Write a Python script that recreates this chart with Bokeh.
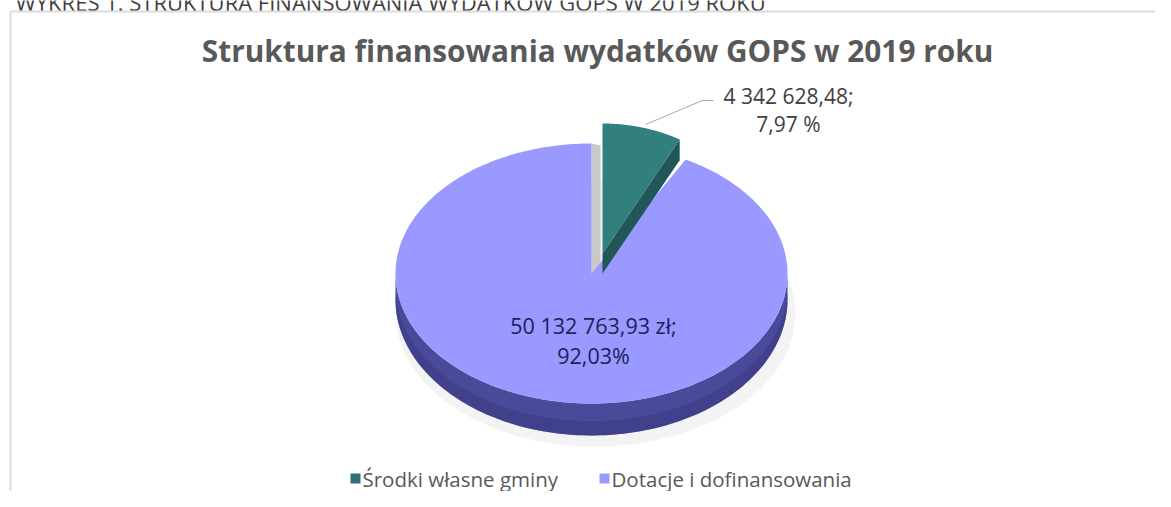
import numpy as np
from bokeh.plotting import figure
from bokeh.models import Range1d
from bokeh.core.properties import value
from bokeh.embed import file_html
from bokeh.resources import INLINE

# ---- data ----
header_text = "WYKRES 1. STRUKTURA FINANSOWANIA WYDATKÓW GOPS W 2019 ROKU"
title_text = "Struktura finansowania wydatków GOPS w 2019 roku"
categories = ["Środki własne gminy", "Dotacje i dofinansowania"]
amounts = [4342628.48, 50132763.93]
label_line1 = ["4 342 628,48;", "50 132 763,93 zł;"]
label_line2 = ["7,97 %", "92,03%"]
top_colors = ["#31807e", "#9999ff"]
side_colors = ["#215857", "#4a4a9a"]
legend_colors = ["#2f6f7a", "#9999ff"]
explode = [1, 0]

# ---- geometry (image pixels) ----
W, H = 1155, 491
CX, CY = 591.0, 273.0
RX, RY = 196.0, 130.0
D0, P2 = 26.0, 0.23
EXP_X, EXP_Y, EXP_SX = 11.0, -20.0, 0.82

p = figure(width=W, height=H, output_backend="svg", toolbar_location=None,
           x_range=Range1d(0, W), y_range=Range1d(H, 0),
           min_border=0, outline_line_color=None)
p.axis.visible = False
p.grid.visible = False
p.background_fill_color = "white"
p.border_fill_color = "white"


def depth(t):
    return D0 * (1 - P2 * np.cos(t))


def rim(t, ox, oy, sx=1.0, down=False):
    x = CX + ox + sx * RX * np.sin(t)
    y = CY + oy - RY * np.cos(t)
    if down:
        y = y + depth(t)
    return x, y


total = sum(amounts)
fracs = [a / total for a in amounts]
starts = np.cumsum([0] + fracs[:-1]) * 2 * np.pi
ends = np.cumsum(fracs) * 2 * np.pi

font = value("Open Sans")

# header of the report (cut off at the top, as in the source page)
p.text(x=[15], y=[1], text=[header_text], text_font=font, text_font_size="22px",
       text_color="#404040", text_align="left", text_baseline="alphabetic")

# frame lines of the report box
p.line(x=[10, W], y=[11, 11], line_color="#dcdcdc", line_width=2)
p.line(x=[10, 10], y=[11, H], line_color="#dcdcdc", line_width=2)

# soft shadow under the pie
p.ellipse(x=[CX + 4], y=[CY + 40], width=[2 * RX + 8], height=[2 * RY + 6],
          fill_color="#bdbdbd", fill_alpha=0.18, line_color=None)

# big slice (index 1): side, wall, top
i = 1
ox, oy = (EXP_X, EXP_Y) if explode[i] else (0.0, 0.0)
a0, a1 = max(starts[i], np.pi / 2), min(ends[i], 3 * np.pi / 2)
ts = np.linspace(a0, a1, 120)
xt, yt = rim(ts, ox, oy)
xb, yb = rim(ts[::-1], ox, oy, down=True)
p.patch(x=np.concatenate([xt, xb]), y=np.concatenate([yt, yb]),
        fill_color=side_colors[i], line_color=None)
xm, ym = xt, yt + depth(ts) * 0.55
p.patch(x=np.concatenate([xm, xb]), y=np.concatenate([ym, yb]),
        fill_color="#3a3a82", fill_alpha=0.6, line_color=None)

# lit wall at 12 o'clock of the big slice
p.patch(x=[CX, CX + 9, CX + 9, CX], y=[CY - RY, CY - RY + 2, CY, CY],
        fill_color="#c9c9c9", line_color=None)

ts = np.linspace(starts[i], ends[i], 300)
xt, yt = rim(ts, ox, oy)
p.patch(x=np.concatenate([[CX + ox], xt]), y=np.concatenate([[CY + oy], yt]),
        fill_color=top_colors[i], line_color=None)

# small exploded slice (index 0)
i = 0
ox, oy = (EXP_X, EXP_Y) if explode[i] else (0.0, 0.0)
sx = EXP_SX if explode[i] else 1.0
te = ends[i]
rx_, ry_ = rim(te, ox, oy, sx)
p.patch(x=[CX + ox, rx_, rx_, CX + ox],
        y=[CY + oy, ry_, ry_ + depth(te), CY + oy + depth(0.0)],
        fill_color=side_colors[i], line_color=None)
ts = np.linspace(starts[i], ends[i], 80)
xt, yt = rim(ts, ox, oy, sx)
p.patch(x=np.concatenate([[CX + ox], xt]), y=np.concatenate([[CY + oy], yt]),
        fill_color=top_colors[i], line_color=None)

# ---- labels ----
p.text(x=[597], y=[50], text=[title_text], text_font=font, text_font_size="29.8px",
       text_font_style="bold", text_color="#595959", text_align="center",
       text_baseline="middle")

# outside label of small slice with leader line
p.line(x=[645, 702, 713], y=[124, 100, 100], line_color="#a6a6a6", line_width=1)
p.text(x=[788, 788], y=[95, 123], text=[label_line1[0], label_line2[0]],
       text_font=font, text_font_size="21px", text_color="#404040",
       text_align="center", text_baseline="middle")

# inside label of big slice
p.text(x=[593, 593], y=[325, 355], text=[label_line1[1], label_line2[1]],
       text_font=font, text_font_size="21.5px", text_color="#20205a",
       text_align="center", text_baseline="middle")

# ---- legend ----
leg_x = [355, 604]
p.rect(x=leg_x, y=[478, 478], width=10, height=10, fill_color=legend_colors,
       line_color=None)
p.text(x=[lx + 7 for lx in leg_x], y=[478, 478], text=categories, text_font=font,
       text_font_size="20.5px", text_color="#595959", text_align="left",
       text_baseline="middle")

open("out.html", "w").write(file_html(p, INLINE))
